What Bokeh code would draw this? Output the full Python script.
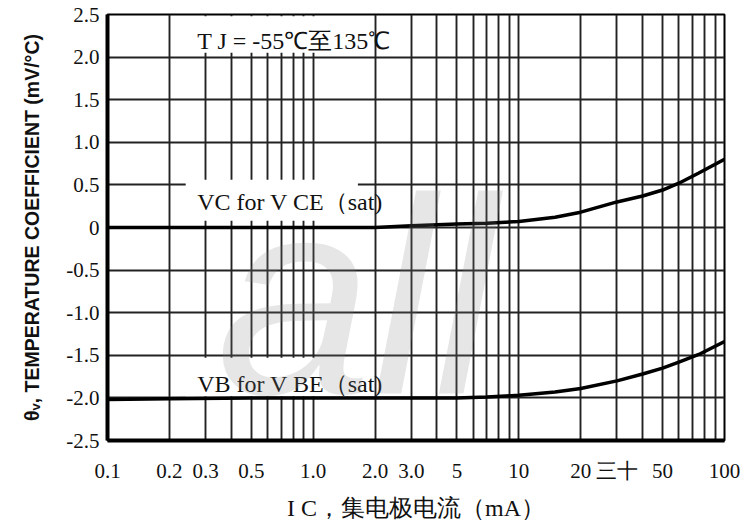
from bokeh.plotting import figure
from bokeh.models import FixedTicker, Label, BoxAnnotation
from bokeh.embed import file_html
from bokeh.resources import INLINE

# ---- data ----
ic_ma = [0.1, 0.2, 0.5, 1.0, 2.0, 3.0, 5.0, 7.0, 10.0, 15.0, 20.0, 30.0, 40.0, 50.0, 60.0, 75.0, 100.0]
vc_vce_sat = [0.0, 0.0, 0.0, 0.0, 0.0, 0.02, 0.04, 0.05, 0.07, 0.12, 0.18, 0.30, 0.37, 0.44, 0.52, 0.64, 0.80]
vb_vbe_sat = [-2.02, -2.01, -2.0, -2.0, -2.0, -2.0, -2.0, -1.99, -1.97, -1.93, -1.89, -1.80, -1.72, -1.65, -1.58, -1.49, -1.34]

x_tick_values = [0.1, 0.2, 0.3, 0.5, 1.0, 2.0, 3.0, 5.0, 10.0, 20.0, 30.0, 50.0, 100.0]
x_tick_labels = ["0.1", "0.2", "0.3", "0.5", "1.0", "2.0", "3.0", "5", "10", "20", "三十", "50", "100"]
y_tick_values = [2.5, 2.0, 1.5, 1.0, 0.5, 0.0, -0.5, -1.0, -1.5, -2.0, -2.5]
y_tick_labels = ["2.5", "2.0", "1.5", "1.0", "0.5", "0", "-0.5", "-1.0", "-1.5", "-2.0", "-2.5"]
x_grid_values = [0.2, 0.3, 0.4, 0.5, 0.6, 0.7, 0.8, 0.9, 1, 2, 3, 4, 5, 6, 7, 8, 9, 10,
                 20, 30, 40, 50, 60, 70, 80, 90]
y_grid_values = [2.0, 1.5, 1.0, 0.5, 0.0, -0.5, -1.0, -1.5, -2.0]

# white masks behind the in-plot texts (data coords)
mask_left = [0.24, 0.24, 0.24]
mask_right = [1.67, 1.65, 1.65]
mask_top = [2.48, 0.56, -1.53]
mask_bottom = [2.05, 0.08, -1.98]

notes = ["T J = -55℃至135℃", "VC for V CE（sat)", "VB for V BE（sat)"]
note_x = [0.273, 0.273, 0.273]
note_y = [2.19, 0.30, -1.84]

SERIF = "Liberation Serif"

p = figure(width=747, height=523, x_axis_type="log", x_range=(0.1, 100), y_range=(-2.5, 2.5),
           output_backend="svg", toolbar_location=None,
           min_border_left=107, min_border_right=23, min_border_top=14, min_border_bottom=80)
p.background_fill_color = "white"
p.border_fill_color = "white"
p.outline_line_color = "black"
p.outline_line_width = 2

p.xaxis.ticker = FixedTicker(ticks=x_tick_values)
p.xaxis.major_label_overrides = {v: t for v, t in zip(x_tick_values, x_tick_labels)}
p.yaxis.ticker = FixedTicker(ticks=y_tick_values)
p.yaxis.major_label_overrides = {v: t for v, t in zip(y_tick_values, y_tick_labels)}

for ax in (p.xaxis[0], p.yaxis[0]):
    ax.axis_line_color = "black"
    ax.axis_line_width = 4
    ax.major_tick_out = 0
    ax.major_tick_in = 0
    ax.minor_tick_out = 0
    ax.minor_tick_in = 0
    ax.major_label_text_font = SERIF
    ax.major_label_text_font_size = "21px"
    ax.major_label_text_color = "#111111"

p.xaxis.major_label_standoff = 18
p.yaxis.major_label_standoff = 8

p.xaxis.axis_label = "I C，集电极电流（mA）"
p.xaxis.axis_label_text_font = SERIF
p.xaxis.axis_label_text_font_size = "24px"
p.xaxis.axis_label_text_font_style = "normal"
p.xaxis.axis_label_text_color = "#111111"
p.xaxis.axis_label_standoff = 9

p.yaxis.axis_label = "θᵥ, TEMPERATURE COEFFICIENT (mV/°C)"
p.yaxis.axis_label_text_font = "Liberation Sans"
p.yaxis.axis_label_text_font_size = "19.5px"
p.yaxis.axis_label_text_font_style = "bold"
p.yaxis.axis_label_text_color = "#111111"
p.yaxis.axis_label_standoff = 20

p.xgrid.ticker = FixedTicker(ticks=x_grid_values)
p.ygrid.ticker = FixedTicker(ticks=y_grid_values)
for g in (p.xgrid[0], p.ygrid[0]):
    g.grid_line_color = "#222222"
    g.grid_line_width = 1.9
    g.grid_line_alpha = 1.0

# white masks behind annotation texts (above grid, below curves)
for l, r, t, b in zip(mask_left, mask_right, mask_top, mask_bottom):
    p.add_layout(BoxAnnotation(left=l, right=r, top=t, bottom=b, fill_color="white", fill_alpha=1.0,
                               line_color=None, level="underlay"))

# curves
p.line(ic_ma, vc_vce_sat, line_color="black", line_width=3.5)
p.line(ic_ma, vb_vbe_sat, line_color="black", line_width=3.5)

# in-plot texts
for t, x, y in zip(notes, note_x, note_y):
    p.add_layout(Label(x=x, y=y, text=t, text_align="left", text_baseline="middle",
                       text_font=SERIF, text_font_size="24px", text_color="#111111"))

# faint watermark (visible part)
p.add_layout(Label(x=7.8, y=-0.81, text="all", text_align="right", text_baseline="alphabetic",
                   text_font="Liberation Sans", text_font_style="italic", text_font_size="280px",
                   text_color="#808080", text_alpha=0.2, level="overlay"))

open("out.html", "w").write(file_html(p, INLINE))
